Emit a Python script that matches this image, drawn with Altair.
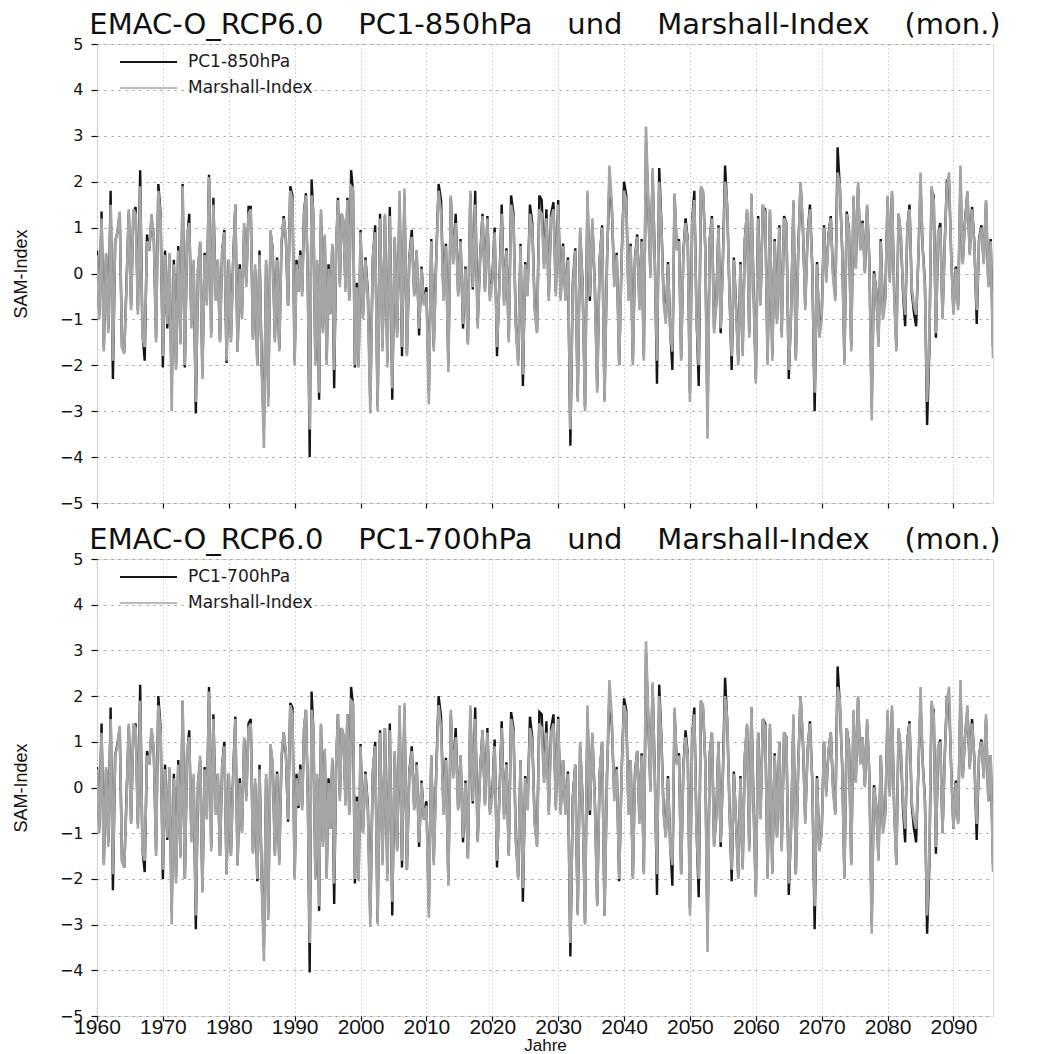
import altair as alt
import pandas as pd

# ---------------- data (grouped by decade) ----------------
DECADE_STARTS = [1960, 1970, 1980, 1990, 2000, 2010, 2020, 2030, 2040, 2050, 2060, 2070, 2080, 2090]
SERIES_END = 2096
X_TICKS = [1960, 1970, 1980, 1990, 2000, 2010, 2020, 2030, 2040, 2050, 2060, 2070, 2080, 2090]
Y_TICKS = [-5, -4, -3, -2, -1, 0, 1, 2, 3, 4, 5]

MARSHALL = [
    [0.4, -1.0, 1.2, -1.7, 0.45, -1.3, 1.5, -1.9, 0.7, 0.9, 1.35, -1.6, -1.75, -0.3, 1.4, -0.8, 1.4, 1.3, -0.9, 1.9, -1.4, -1.6, 0.7, 0.5, 1.3, 0.8, -1.5, 1.8, 1.2],
    [-1.8, 0.4, -1.1, 0.45, -3.0, 0.2, -2.1, 0.5, -1.55, 1.9, -2.0, 0.8, 1.1, -1.2, 0.3, -2.8, 0.1, 0.7, -2.3, 0.4, -0.7, 2.1, -1.4, 1.5, -0.6, 0.3, -1.5, 0.5, 0.9, -1.9],
    [0.3, -1.5, 0.2, 1.5, -1.7, 0.1, -1.0, 1.1, -0.3, 1.3, 1.4, -1.45, 0.2, -2.0, 0.4, -2.1, -3.8, 0.3, -2.9, 0.95, 0.5, -1.5, 0.3, -1.7, 0.7, 1.2, 0.8, -0.7, 1.8, 1.6],
    [-2.0, 0.2, -0.4, 0.4, -0.5, 1.3, 1.7, -0.3, -3.4, 1.7, 1.3, -2.0, 0.3, -2.6, 1.4, -1.3, 0.85, -2.0, 0.1, -0.9, 0.65, -2.1, 0.5, 1.6, -0.3, 1.3, 1.15, -0.4, 1.6, -0.6, 1.9, 1.85, -2.0, -0.3, -2.05],
    [0.9, -1.0, 0.3, -0.5, -3.05, 0.35, 0.9, -3.0, 1.2, -1.7, 1.3, -2.05, 1.25, -2.5, 0.8, -1.4, 1.8, -1.6, 1.85, -1.8, 0.3, 0.8, -0.5, 0.5, -1.2, 0.1, -0.7],
    [-0.4, -2.85, 0.7, -1.7, 0.2, 1.8, 1.3, -0.6, 0.6, -2.15, 1.7, 0.2, 1.1, -0.5, 0.7, -1.1, 0.1, -1.55, 1.8, -0.3, 1.5, -1.2, 0.3, 1.25, -0.4, 1.2, -0.6],
    [-0.2, 0.9, -1.6, -0.3, 1.3, -0.7, 0.5, -1.5, 1.5, 1.2, -1.2, -2.0, 0.6, -2.2, 0.2, -0.5, 1.3, 1.0, -0.8, -1.3, 1.4, 1.3, 0.1, 1.2, -0.6, 1.2, 1.4, -0.5],
    [1.5, -0.6, 0.6, -0.6, 0.3, -3.4, -0.3, 0.5, -2.8, 1.0, -0.3, -3.0, 1.8, -0.5, 1.2, -0.3, -2.6, 0.3, 1.0, -2.8, 0.2, 2.35, 1.5, -0.3, 0.4, -2.0, 0.3],
    [1.8, 1.6, -0.6, 0.6, -2.0, 0.3, 0.8, -0.8, 0.7, -1.9, 3.2, 1.6, -0.1, 2.3, 0.2, -1.9, 2.0, 1.0, -0.6, -1.1, 0.2, -1.3, -1.7, 1.75, 0.5, 0.7, -1.9, 0.4, 1.1, 0.7],
    [-2.8, 1.1, 1.6, -1.0, -2.0, 1.9, 1.8, 0.5, -3.6, 0.7, 1.2, -1.3, -0.7, 1.0, -1.2, 0.2, 2.0, 1.5, -0.5, -1.8, 0.3, -0.8, -2.0, 0.2, -1.8, 0.7, 1.4, -1.4, 1.75, -0.5],
    [-2.4, 1.2, -0.7, 1.5, 1.3, -2.0, 1.4, -1.9, 0.7, -1.1, 1.0, -1.4, 1.2, 1.1, -2.1, -0.9, 1.6, -1.9, 0.4, 2.0, 1.1, -0.8, 0.8, 1.4, 0.1, -2.6, 0.2, -1.4],
    [-1.0, 1.0, -0.2, 0.8, 1.2, -0.1, -0.6, 2.2, 1.9, 0.5, -2.0, 1.3, 0.9, -1.7, 1.7, 0.1, 2.0, 0.5, 1.1, 0.0, 1.5, 0.2, -3.2, 0.0, -0.4, -1.6, 0.7, -1.0, -0.6],
    [1.7, -0.2, 1.8, -0.5, -1.7, 1.3, 0.9, -0.3, -0.9, 1.0, 1.4, -0.3, -0.7, -0.9, 0.3, 2.2, 0.5, -0.3, -2.8, -1.5, 1.9, 1.6, -1.3, 0.9, 1.0, -1.0, 0.6, 1.9, 2.2, 0.3],
    [-0.9, 0.1, -0.8, 2.35, 0.2, 1.1, 1.8, 0.4, 1.4, 0.6, -0.8, 0.7, 1.0, 0.2, 1.6, -0.3, 0.7, -1.85],
]

PC1_850 = [
    [0.5, -0.9, 1.35, -1.6, 0.4, -1.2, 1.8, -2.3, 0.7, 0.9, 1.3, -1.6, -1.7, -0.2, 1.35, -0.7, 1.3, 1.45, -0.8, 2.25, -1.3, -1.9, 0.85, 0.5, 1.2, 0.8, -1.4, 1.95, 1.3],
    [-2.05, 0.5, -1.2, 0.4, -2.6, 0.3, -2.0, 0.6, -1.5, 1.95, -2.05, 0.7, 1.3, -1.1, 0.2, -3.05, 0.1, 0.65, -2.2, 0.45, -0.6, 2.15, -1.3, 1.65, -0.5, 0.3, -1.45, 0.5, 0.95, -1.95],
    [0.3, -1.4, 0.3, 1.5, -1.7, 0.2, -0.9, 1.0, -0.2, 1.45, 1.45, -1.4, 0.1, -2.0, 0.5, -2.0, -3.4, 0.2, -2.7, 0.9, 0.55, -1.4, 0.35, -1.65, 0.6, 1.25, 0.75, -0.7, 1.9, 1.7],
    [-1.9, 0.3, -0.4, 0.5, -0.4, 1.35, 1.75, -0.2, -4.0, 2.05, 1.2, -1.9, 0.2, -2.75, 1.3, -1.2, 0.8, -1.9, 0.2, -0.85, 0.6, -2.5, 0.45, 1.65, -0.2, 1.3, 1.1, -0.3, 1.65, -0.55, 2.25, 1.8, -2.05, -0.2, -2.0],
    [0.95, -0.9, 0.35, -0.4, -2.8, 0.3, 1.05, -2.9, 1.3, -1.6, 1.25, -1.9, 1.45, -2.75, 0.75, -1.3, 1.6, -1.8, 1.7, -1.75, 0.35, 0.95, -0.45, 0.5, -1.35, 0.15, -0.65],
    [-0.3, -2.6, 0.75, -1.6, 0.3, 1.95, 1.6, -0.5, 0.65, -2.0, 1.65, 0.3, 1.3, -0.4, 0.75, -1.2, 0.15, -1.5, 1.75, -0.35, 1.8, -1.1, 0.35, 1.3, -0.35, 1.25, -0.5],
    [-0.1, 1.0, -1.8, -0.2, 1.5, -0.6, 0.55, -1.4, 1.7, 1.3, -1.1, -1.9, 0.65, -2.45, 0.25, -0.4, 1.5, 1.1, -0.7, -1.25, 1.7, 1.6, 0.2, 1.4, -0.5, 1.3, 1.55, -0.4],
    [1.6, -0.5, 0.65, -0.55, 0.35, -3.75, -0.2, 0.55, -2.7, 0.9, -0.2, -2.9, 1.7, -0.6, 1.1, -0.2, -2.5, 0.3, 1.05, -2.75, 0.25, 2.0, 1.4, -0.2, 0.45, -2.0, 0.35],
    [2.0, 1.7, -0.5, 0.65, -1.9, 0.35, 0.85, -0.7, 0.75, -1.8, 2.9, 1.5, 0.0, 2.2, 0.3, -2.4, 2.3, 1.1, -0.5, -1.0, 0.25, -1.2, -2.1, 1.7, 0.55, 0.75, -1.85, 0.45, 1.2, 0.75],
    [-2.6, 1.15, 1.8, -0.9, -2.45, 1.85, 1.75, 0.55, -3.2, 0.75, 1.25, -1.2, -0.6, 1.05, -1.3, 0.3, 2.35, 1.4, -0.4, -2.1, 0.35, -0.7, -1.9, 0.25, -1.7, 0.75, 1.35, -1.3, 1.7, -0.4],
    [-2.3, 1.25, -0.6, 1.45, 1.4, -1.9, 1.35, -1.8, 0.75, -1.0, 1.05, -1.3, 1.25, 1.1, -2.3, -0.8, 1.55, -1.85, 0.45, 1.95, 1.0, -0.7, 0.85, 1.5, 0.15, -3.0, 0.25, -1.3],
    [-0.9, 1.05, -0.1, 0.85, 1.25, 0.0, -0.5, 2.75, 1.85, 0.55, -1.9, 1.35, 0.95, -1.6, 1.65, 0.15, 1.9, 0.55, 1.15, 0.05, 1.45, 0.25, -2.9, 0.05, -0.35, -1.5, 0.75, -0.9, -0.5],
    [1.65, -0.1, 1.75, -0.4, -1.6, 1.3, 0.85, -0.4, -1.15, 1.0, 1.5, -0.4, -0.85, -1.15, 0.35, 1.9, 0.55, -0.2, -3.3, -1.7, 1.8, 1.7, -1.4, 0.85, 1.1, -0.95, 0.65, 2.0, 1.95, 0.35],
    [-0.85, 0.15, -0.7, 2.0, 0.25, 1.2, 1.75, 0.45, 1.45, 0.65, -1.1, 0.75, 1.05, 0.25, 1.55, -0.25, 0.75, -1.6],
]

PC1_700 = [
    [0.45, -0.9, 1.4, -1.65, 0.4, -1.2, 1.75, -2.25, 0.7, 0.95, 1.3, -1.6, -1.75, -0.2, 1.35, -0.75, 1.3, 1.4, -0.8, 2.25, -1.35, -1.85, 0.8, 0.5, 1.25, 0.8, -1.4, 2.0, 1.3],
    [-2.0, 0.5, -1.15, 0.4, -2.7, 0.3, -1.95, 0.6, -1.5, 1.9, -2.0, 0.7, 1.25, -1.1, 0.2, -3.1, 0.1, 0.6, -2.25, 0.45, -0.6, 2.2, -1.3, 1.6, -0.5, 0.3, -1.5, 0.5, 1.0, -1.9],
    [0.3, -1.45, 0.3, 1.55, -1.7, 0.2, -0.95, 1.05, -0.2, 1.4, 1.5, -1.4, 0.1, -2.05, 0.5, -2.0, -3.5, 0.2, -2.75, 0.9, 0.5, -1.45, 0.35, -1.6, 0.6, 1.2, 0.75, -0.75, 1.85, 1.75],
    [-1.95, 0.3, -0.45, 0.5, -0.4, 1.3, 1.7, -0.2, -4.05, 2.1, 1.2, -1.95, 0.2, -2.7, 1.35, -1.2, 0.8, -1.95, 0.2, -0.9, 0.6, -2.55, 0.45, 1.6, -0.2, 1.3, 1.1, -0.3, 1.6, -0.55, 2.2, 1.8, -2.1, -0.2, -2.0],
    [0.95, -0.95, 0.35, -0.4, -2.85, 0.3, 1.0, -2.95, 1.25, -1.6, 1.3, -1.9, 1.4, -2.8, 0.75, -1.35, 1.6, -1.75, 1.75, -1.8, 0.35, 0.9, -0.45, 0.55, -1.3, 0.15, -0.7],
    [-0.3, -2.65, 0.7, -1.6, 0.3, 2.0, 1.55, -0.5, 0.65, -2.05, 1.6, 0.3, 1.3, -0.45, 0.7, -1.2, 0.15, -1.55, 1.7, -0.35, 1.75, -1.15, 0.35, 1.25, -0.35, 1.3, -0.5],
    [-0.1, 1.05, -1.75, -0.2, 1.45, -0.6, 0.55, -1.45, 1.65, 1.3, -1.1, -1.95, 0.6, -2.5, 0.25, -0.4, 1.55, 1.1, -0.75, -1.25, 1.65, 1.6, 0.2, 1.45, -0.5, 1.3, 1.6, -0.4],
    [1.55, -0.5, 0.6, -0.55, 0.35, -3.7, -0.2, 0.5, -2.75, 0.9, -0.25, -2.95, 1.65, -0.6, 1.15, -0.2, -2.55, 0.3, 1.0, -2.8, 0.25, 2.05, 1.35, -0.2, 0.45, -2.05, 0.35],
    [1.95, 1.7, -0.5, 0.6, -1.95, 0.35, 0.8, -0.7, 0.75, -1.85, 2.95, 1.5, 0.0, 2.25, 0.3, -2.35, 2.25, 1.1, -0.5, -1.05, 0.25, -1.2, -2.15, 1.65, 0.55, 0.75, -1.9, 0.45, 1.25, 0.75],
    [-2.65, 1.15, 1.75, -0.9, -2.4, 1.9, 1.7, 0.55, -3.3, 0.75, 1.2, -1.25, -0.6, 1.0, -1.3, 0.3, 2.4, 1.4, -0.4, -2.05, 0.35, -0.75, -1.95, 0.25, -1.75, 0.7, 1.35, -1.3, 1.75, -0.4],
    [-2.35, 1.2, -0.6, 1.5, 1.4, -1.95, 1.3, -1.85, 0.75, -1.05, 1.0, -1.3, 1.2, 1.1, -2.35, -0.8, 1.5, -1.9, 0.45, 2.0, 1.0, -0.7, 0.8, 1.45, 0.15, -3.1, 0.25, -1.35],
    [-0.95, 1.0, -0.1, 0.8, 1.2, 0.0, -0.55, 2.65, 1.8, 0.5, -1.95, 1.3, 0.95, -1.65, 1.6, 0.15, 1.95, 0.55, 1.1, 0.05, 1.4, 0.25, -3.0, 0.05, -0.4, -1.55, 0.7, -0.9, -0.55],
    [1.6, -0.1, 1.7, -0.45, -1.65, 1.25, 0.85, -0.45, -1.2, 1.05, 1.45, -0.4, -0.9, -1.2, 0.35, 1.85, 0.55, -0.25, -3.2, -1.75, 1.75, 1.7, -1.45, 0.85, 1.05, -1.0, 0.65, 1.95, 1.9, 0.35],
    [-0.9, 0.15, -0.75, 2.05, 0.25, 1.15, 1.7, 0.45, 1.5, 0.6, -1.15, 0.7, 1.05, 0.25, 1.5, -0.3, 0.7, -1.7],
]

GAP = "\u2003\u2009"
TITLE_850 = GAP.join(["EMAC-O_RCP6.0", "PC1-850hPa", "und", "Marshall-Index", "(mon.)"])
TITLE_700 = GAP.join(["EMAC-O_RCP6.0", "PC1-700hPa", "und", "Marshall-Index", "(mon.)"])

BLACK = "#151515"
GRAY = "#a5a5a5"
W = 896
NARROW = "Liberation Sans, Arial, sans-serif"


def build(decade_lists, name):
    rows = []
    last = len(DECADE_STARTS) - 1
    for k, vals in enumerate(decade_lists):
        start = DECADE_STARTS[k]
        n = len(vals)
        if k < last:
            step = (DECADE_STARTS[k + 1] - start) / n
        else:
            step = (SERIES_END - start) / (n - 1)
        for i, v in enumerate(vals):
            rows.append({"Jahr": start + i * step, "SAM": v, "Reihe": name})
    return pd.DataFrame(rows)


def panel(pc1_lists, pc1_name, title, bottom, height):
    df_pc = build(pc1_lists, pc1_name)
    df_m = build(MARSHALL, "Marshall-Index")

    x_axis = alt.Axis(
        values=X_TICKS, format="d", labels=bottom, grid=True,
        gridColor="#aaaaaa", gridDash=[1, 3], gridWidth=1,
        ticks=True, tickSize=5, tickColor="#111", tickWidth=1.2,
        domain=False,
        labelFont=NARROW, labelFontSize=21, labelColor="#111", labelPadding=-5,
        labelOverlap=False, labelFlush=False,
        title="Jahre" if bottom else None,
        titleFont=NARROW, titleFontSize=17, titleFontWeight="normal", titleColor="#111",
        titlePadding=0,
    )
    y_axis = alt.Axis(
        values=Y_TICKS, grid=True,
        gridColor="#999999", gridDash=[2, 5], gridWidth=1,
        ticks=True, tickSize=6, tickColor="#111", tickWidth=1.2,
        domain=False,
        labelFont="DejaVu Sans", labelFontSize=16, labelColor="#111", labelPadding=8,
        title="SAM-Index",
        titleFont=NARROW, titleFontSize=18, titleFontWeight="normal", titleColor="#111",
        titlePadding=29,
    )
    xs = alt.Scale(domain=[1960, SERIES_END], nice=False, zero=False)
    ys = alt.Scale(domain=[-5, 5], nice=False)

    black = alt.Chart(df_pc).mark_line(color=BLACK, strokeWidth=2.4, clip=True).encode(
        x=alt.X("Jahr:Q", scale=xs, axis=x_axis),
        y=alt.Y("SAM:Q", scale=ys, axis=y_axis),
    )
    gray = alt.Chart(df_m).mark_line(color=GRAY, strokeWidth=2.6, clip=True).encode(
        x=alt.X("Jahr:Q", scale=xs),
        y=alt.Y("SAM:Q", scale=ys),
    )

    leg1 = pd.DataFrame({"label": [pc1_name]})
    leg2 = pd.DataFrame({"label": ["Marshall-Index"]})
    leg_font = "DejaVu Sans"
    l1 = alt.Chart(leg1).mark_rule(color=BLACK, strokeWidth=1.8).encode(
        x=alt.value(23), x2=alt.value(80), y=alt.value(18))
    t1 = alt.Chart(leg1).mark_text(align="left", baseline="middle", font=leg_font,
                                   fontSize=17, color="#1a1a1a").encode(
        x=alt.value(91), y=alt.value(18), text="label:N")
    l2 = alt.Chart(leg2).mark_rule(color=GRAY, strokeWidth=1.4).encode(
        x=alt.value(23), x2=alt.value(80), y=alt.value(44))
    t2 = alt.Chart(leg2).mark_text(align="left", baseline="middle", font=leg_font,
                                   fontSize=17, color="#1a1a1a").encode(
        x=alt.value(91), y=alt.value(44), text="label:N")

    return alt.layer(black, gray, l1, t1, l2, t2).properties(
        width=W, height=height,
        title=alt.TitleParams(title, font="DejaVu Sans", fontSize=29, fontWeight="normal",
                              color="#111", anchor="middle", offset=-4),
    )


top = panel(PC1_850, "PC1-850hPa", TITLE_850, False, 459)
bottom = panel(PC1_700, "PC1-700hPa", TITLE_700, True, 457)

chart = alt.vconcat(top, bottom, spacing=13).properties(
    padding={"left": 3, "top": 2, "right": 5, "bottom": 0}
).configure_view(stroke="#111", strokeWidth=2).configure(background="white")

chart.save("out.html", embed_options={"renderer": "svg", "actions": False})
